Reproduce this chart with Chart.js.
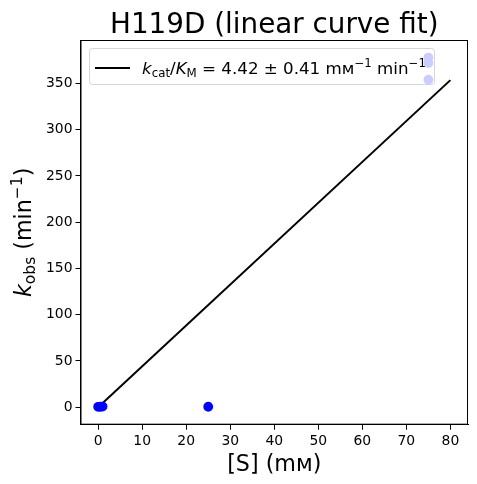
<!DOCTYPE html>
<html>
<head>
<meta charset="utf-8">
<script src="https://cdn.jsdelivr.net/npm/chart.js@4"></script>
<style>
  html, body { margin: 0; padding: 0; background: #fff; }
  canvas { display: block; }
</style>
</head>
<body>
<canvas id="chart" width="477" height="484"></canvas>
<script>
// measured points (blue) and the high-concentration points (faded)
const xMeasured = [0, 0.5, 1, 25];
const yMeasured = [0.4, 0.5, 0.7, 0.5];
const xFaded = [75, 75, 75];
const yFaded = [378, 372, 354];
// fitted line endpoints, slope 4.42
const xFit = [0, 80];
const yFit = [0, 353.6];

const xTicks = [0, 10, 20, 30, 40, 50, 60, 70, 80];
const yTicks = [0, 50, 100, 150, 200, 250, 300, 350];

const titleText = "H119D (linear curve fit)";
const FONT = "'DejaVu Sans', sans-serif";

function toPoints(xs, ys) {
    return xs.map((x, i) => ({ x: x, y: ys[i] }));
}

// text runs: {t, size, italic, dy}
function richWidth(ctx, runs) {
    let w = 0;
    for (let r of runs) {
        ctx.font = (r.italic ? "italic " : "") + r.size + "px " + FONT;
        w += ctx.measureText(r.t).width;
    }
    return w;
}
function drawRich(ctx, runs, x, y) {
    for (let r of runs) {
        ctx.font = (r.italic ? "italic " : "") + r.size + "px " + FONT;
        ctx.fillText(r.t, x, y + (r.dy || 0));
        x += ctx.measureText(r.t).width;
    }
}

const decorPlugin = {
    id: "decor",
    beforeDatasetsDraw(chart) {
        const ctx = chart.ctx;
        ctx.save();
        // legend box sits under the points
        const lx = 89, ly = 48, lw = 345, lh = 36;
        ctx.beginPath();
        ctx.roundRect(lx + 0.5, ly + 0.5, lw, lh, 3);
        ctx.fillStyle = "rgba(255,255,255,0.8)";
        ctx.fill();
        ctx.strokeStyle = "rgba(204,204,204,0.8)";
        ctx.lineWidth = 1;
        ctx.stroke();
        ctx.strokeStyle = "black";
        ctx.lineWidth = 2;
        ctx.beginPath();
        ctx.moveTo(95, 68);
        ctx.lineTo(130, 68);
        ctx.stroke();
        ctx.fillStyle = "black";
        ctx.textBaseline = "alphabetic";
        ctx.textAlign = "left";
        const s = 16.7, sub = 11.8;
        drawRich(ctx, [
            { t: "k", size: s, italic: true },
            { t: "cat", size: sub, dy: 3 },
            { t: "/", size: s },
            { t: "K", size: s, italic: true },
            { t: "M", size: sub, dy: 3 },
            { t: " = 4.42 \u00b1 0.41 m\u1d0d", size: s },
            { t: "\u22121", size: sub, dy: -7 },
            { t: " min", size: s },
            { t: "\u22121", size: sub, dy: -7 }
        ], 142, 74);
        ctx.restore();
    },
    afterDatasetsDraw(chart) {
        const ctx = chart.ctx;
        const a = chart.chartArea;
        ctx.save();
        // frame around the plot
        ctx.strokeStyle = "black";
        ctx.lineWidth = 1;
        ctx.strokeRect(a.left + 0.5, a.top + 0.5, a.right - a.left - 1, a.bottom - a.top - 1);

        // title centred over the plot
        ctx.fillStyle = "black";
        ctx.font = "27.8px " + FONT;
        ctx.textAlign = "center";
        ctx.textBaseline = "alphabetic";
        ctx.fillText(titleText, (a.left + a.right) / 2, 33);

        // y axis title
        ctx.translate(31, (a.top + a.bottom) / 2);
        ctx.rotate(-Math.PI / 2);
        const ys = 22.2, ysub = 15.5;
        const yRuns = [
            { t: "k", size: ys, italic: true },
            { t: "obs", size: ysub, dy: 4 },
            { t: " (min", size: ys },
            { t: "\u22121", size: ysub, dy: -9 },
            { t: ")", size: ys }
        ];
        ctx.textAlign = "left";
        drawRich(ctx, yRuns, -richWidth(ctx, yRuns) / 2, 0);
        ctx.restore();
    }
};

const axisBase = {
    type: "linear",
    grid: { drawOnChartArea: false, drawTicks: true, tickLength: 5, color: "black" },
    border: { color: "black", width: 1 },
    ticks: { color: "black", font: { family: FONT, size: 13.9 }, padding: 3 }
};

new Chart("chart", {
    type: "scatter",
    data: {
        datasets: [
            {
                label: "fit",
                type: "line",
                data: toPoints(xFit, yFit),
                borderColor: "black",
                borderWidth: 2,
                pointRadius: 0,
                fill: false,
                order: 3
            },
            {
                label: "faded",
                data: toPoints(xFaded, yFaded),
                backgroundColor: "#ccccff",
                borderColor: "#ccccff",
                pointRadius: 4.2,
                borderWidth: 1.4,
                order: 2
            },
            {
                label: "measured",
                data: toPoints(xMeasured, yMeasured),
                backgroundColor: "#0000ff",
                borderColor: "#0000ff",
                pointRadius: 4.2,
                borderWidth: 1.4,
                order: 1
            }
        ]
    },
    options: {
        responsive: false,
        animation: false,
        devicePixelRatio: 1,
        layout: { padding: { top: 40, right: 9, left: 43, bottom: 5 } },
        plugins: {
            legend: { display: false },
            title: { display: false },
            tooltip: { enabled: false }
        },
        scales: {
            x: Object.assign({}, axisBase, {
                min: -4,
                max: 84,
                afterBuildTicks: s => { s.ticks = xTicks.map(v => ({ value: v })); },
                title: {
                    display: true,
                    text: "[S] (m\u1d0d)",
                    color: "black",
                    font: { family: FONT, size: 22.2 },
                    padding: { top: 0, bottom: 0 }
                }
            }),
            y: Object.assign({}, axisBase, {
                min: -18.9,
                max: 397,
                afterBuildTicks: s => { s.ticks = yTicks.map(v => ({ value: v })); }
            })
        }
    },
    plugins: [decorPlugin]
});
</script>
</body>
</html>
